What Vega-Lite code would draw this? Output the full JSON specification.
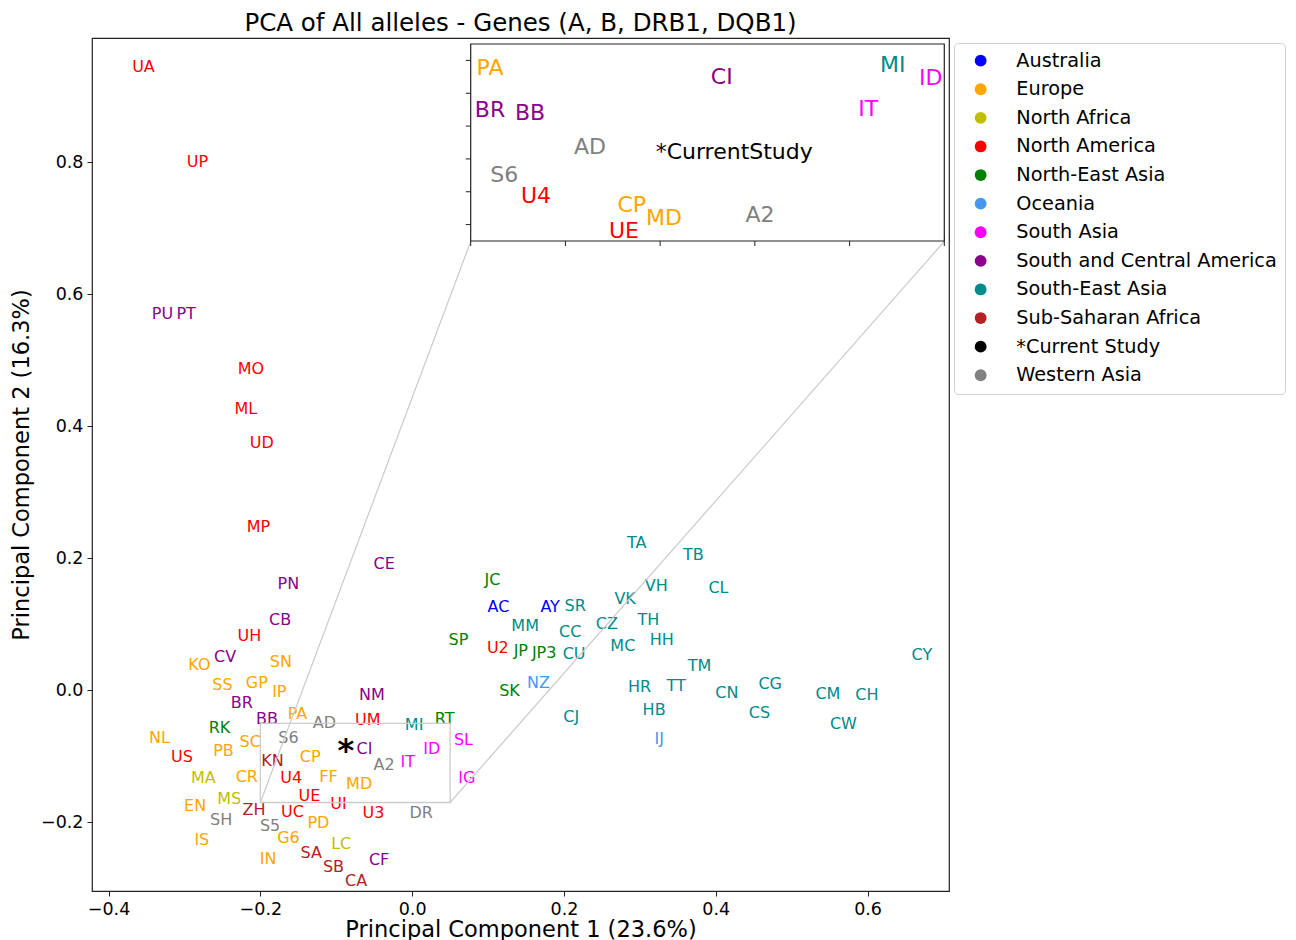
{
  "$schema": "https://vega.github.io/schema/vega-lite/v6.json",
  "width": 857,
  "height": 853,
  "autosize": {"type": "none"},
  "padding": {"left": 92, "top": 38, "right": 347, "bottom": 49},
  "background": "white",
  "title": {"text": "PCA of All alleles - Genes (A, B, DRB1, DQB1)", "fontSize": 24.5, "fontWeight": "normal", "color": "#000", "anchor": "middle", "offset": 2},
  "datasets": {
    "main": [
      {"code": "UA", "region": "North America", "pc1": -0.3540, "pc2": 0.9440},
      {"code": "UP", "region": "North America", "pc1": -0.2829, "pc2": 0.8001},
      {"code": "PU", "region": "South and Central America", "pc1": -0.3290, "pc2": 0.5705},
      {"code": "PT", "region": "South and Central America", "pc1": -0.2978, "pc2": 0.5705},
      {"code": "MO", "region": "North America", "pc1": -0.2125, "pc2": 0.4872},
      {"code": "ML", "region": "North America", "pc1": -0.2191, "pc2": 0.4266},
      {"code": "UD", "region": "North America", "pc1": -0.1980, "pc2": 0.3751},
      {"code": "MP", "region": "North America", "pc1": -0.2025, "pc2": 0.2473},
      {"code": "CE", "region": "South and Central America", "pc1": -0.0369, "pc2": 0.1908},
      {"code": "PN", "region": "South and Central America", "pc1": -0.1630, "pc2": 0.1605},
      {"code": "CB", "region": "South and Central America", "pc1": -0.1739, "pc2": 0.1060},
      {"code": "UH", "region": "North America", "pc1": -0.2144, "pc2": 0.0822},
      {"code": "CV", "region": "South and Central America", "pc1": -0.2464, "pc2": 0.0504},
      {"code": "KO", "region": "Europe", "pc1": -0.2802, "pc2": 0.0379},
      {"code": "SN", "region": "Europe", "pc1": -0.1730, "pc2": 0.0432},
      {"code": "SS", "region": "Europe", "pc1": -0.2499, "pc2": 0.0076},
      {"code": "GP", "region": "Europe", "pc1": -0.2046, "pc2": 0.0117},
      {"code": "IP", "region": "Europe", "pc1": -0.1750, "pc2": -0.0026},
      {"code": "BR", "region": "South and Central America", "pc1": -0.2244, "pc2": -0.0192},
      {"code": "BB", "region": "South and Central America", "pc1": -0.1914, "pc2": -0.0439},
      {"code": "PA", "region": "Europe", "pc1": -0.1511, "pc2": -0.0363},
      {"code": "AD", "region": "Western Asia", "pc1": -0.1155, "pc2": -0.0495},
      {"code": "NM", "region": "South and Central America", "pc1": -0.0531, "pc2": -0.0065},
      {"code": "UM", "region": "North America", "pc1": -0.0584, "pc2": -0.0454},
      {"code": "MI", "region": "South-East Asia", "pc1": 0.0026, "pc2": -0.0519},
      {"code": "RT", "region": "North-East Asia", "pc1": 0.0428, "pc2": -0.0432},
      {"code": "RK", "region": "North-East Asia", "pc1": -0.2539, "pc2": -0.0571},
      {"code": "NL", "region": "Europe", "pc1": -0.3329, "pc2": -0.0716},
      {"code": "SC", "region": "Europe", "pc1": -0.2134, "pc2": -0.0783},
      {"code": "S6", "region": "Western Asia", "pc1": -0.1630, "pc2": -0.0716},
      {"code": "*", "region": "*Current Study", "pc1": -0.0874, "pc2": -0.0807},
      {"code": "CI", "region": "South and Central America", "pc1": -0.0628, "pc2": -0.0883},
      {"code": "ID", "region": "South Asia", "pc1": 0.0260, "pc2": -0.0883},
      {"code": "SL", "region": "South Asia", "pc1": 0.0676, "pc2": -0.0757},
      {"code": "US", "region": "North America", "pc1": -0.3034, "pc2": -0.1010},
      {"code": "PB", "region": "Europe", "pc1": -0.2486, "pc2": -0.0919},
      {"code": "KN", "region": "Sub-Saharan Africa", "pc1": -0.1841, "pc2": -0.1075},
      {"code": "CP", "region": "Europe", "pc1": -0.1344, "pc2": -0.1010},
      {"code": "A2", "region": "Western Asia", "pc1": -0.0369, "pc2": -0.1125},
      {"code": "IT", "region": "South Asia", "pc1": -0.0057, "pc2": -0.1086},
      {"code": "MA", "region": "North Africa", "pc1": -0.2750, "pc2": -0.1328},
      {"code": "CR", "region": "Europe", "pc1": -0.2178, "pc2": -0.1313},
      {"code": "U4", "region": "North America", "pc1": -0.1594, "pc2": -0.1328},
      {"code": "FF", "region": "Europe", "pc1": -0.1103, "pc2": -0.1313},
      {"code": "MD", "region": "Europe", "pc1": -0.0698, "pc2": -0.1413},
      {"code": "IG", "region": "South Asia", "pc1": 0.0721, "pc2": -0.1328},
      {"code": "MS", "region": "North Africa", "pc1": -0.2411, "pc2": -0.1640},
      {"code": "EN", "region": "Europe", "pc1": -0.2859, "pc2": -0.1752},
      {"code": "ZH", "region": "Sub-Saharan Africa", "pc1": -0.2082, "pc2": -0.1817},
      {"code": "UE", "region": "North America", "pc1": -0.1353, "pc2": -0.1601},
      {"code": "UC", "region": "North America", "pc1": -0.1577, "pc2": -0.1843},
      {"code": "UI", "region": "North America", "pc1": -0.0971, "pc2": -0.1726},
      {"code": "U3", "region": "North America", "pc1": -0.0510, "pc2": -0.1852},
      {"code": "DR", "region": "Western Asia", "pc1": 0.0119, "pc2": -0.1852},
      {"code": "SH", "region": "Western Asia", "pc1": -0.2516, "pc2": -0.1969},
      {"code": "S5", "region": "Western Asia", "pc1": -0.1871, "pc2": -0.2060},
      {"code": "PD", "region": "Europe", "pc1": -0.1235, "pc2": -0.2010},
      {"code": "G6", "region": "Europe", "pc1": -0.1630, "pc2": -0.2237},
      {"code": "LC", "region": "North Africa", "pc1": -0.0935, "pc2": -0.2322},
      {"code": "IS", "region": "Europe", "pc1": -0.2771, "pc2": -0.2272},
      {"code": "IN", "region": "Europe", "pc1": -0.1897, "pc2": -0.2562},
      {"code": "SA", "region": "Sub-Saharan Africa", "pc1": -0.1331, "pc2": -0.2458},
      {"code": "CF", "region": "South and Central America", "pc1": -0.0435, "pc2": -0.2575},
      {"code": "SB", "region": "Sub-Saharan Africa", "pc1": -0.1037, "pc2": -0.2676},
      {"code": "CA", "region": "Sub-Saharan Africa", "pc1": -0.0738, "pc2": -0.2888},
      {"code": "SP", "region": "North-East Asia", "pc1": 0.0610, "pc2": 0.0768},
      {"code": "JC", "region": "North-East Asia", "pc1": 0.1058, "pc2": 0.1666},
      {"code": "AC", "region": "Australia", "pc1": 0.1137, "pc2": 0.1262},
      {"code": "AY", "region": "Australia", "pc1": 0.1818, "pc2": 0.1262},
      {"code": "SR", "region": "South-East Asia", "pc1": 0.2148, "pc2": 0.1277},
      {"code": "MM", "region": "South-East Asia", "pc1": 0.1489, "pc2": 0.0969},
      {"code": "CC", "region": "South-East Asia", "pc1": 0.2082, "pc2": 0.0883},
      {"code": "CZ", "region": "South-East Asia", "pc1": 0.2565, "pc2": 0.1000},
      {"code": "VK", "region": "South-East Asia", "pc1": 0.2806, "pc2": 0.1378},
      {"code": "TA", "region": "South-East Asia", "pc1": 0.2960, "pc2": 0.2231},
      {"code": "TB", "region": "South-East Asia", "pc1": 0.3706, "pc2": 0.2045},
      {"code": "VH", "region": "South-East Asia", "pc1": 0.3215, "pc2": 0.1580},
      {"code": "CL", "region": "South-East Asia", "pc1": 0.4036, "pc2": 0.1555},
      {"code": "TH", "region": "South-East Asia", "pc1": 0.3113, "pc2": 0.1071},
      {"code": "HH", "region": "South-East Asia", "pc1": 0.3290, "pc2": 0.0768},
      {"code": "MC", "region": "South-East Asia", "pc1": 0.2776, "pc2": 0.0666},
      {"code": "U2", "region": "North America", "pc1": 0.1129, "pc2": 0.0641},
      {"code": "JP", "region": "North-East Asia", "pc1": 0.1432, "pc2": 0.0595},
      {"code": "JP3", "region": "North-East Asia", "pc1": 0.1739, "pc2": 0.0571},
      {"code": "CU", "region": "South-East Asia", "pc1": 0.2134, "pc2": 0.0556},
      {"code": "CY", "region": "South-East Asia", "pc1": 0.6715, "pc2": 0.0541},
      {"code": "TM", "region": "South-East Asia", "pc1": 0.3785, "pc2": 0.0368},
      {"code": "NZ", "region": "Oceania", "pc1": 0.1664, "pc2": 0.0117},
      {"code": "SK", "region": "North-East Asia", "pc1": 0.1282, "pc2": -0.0011},
      {"code": "HR", "region": "South-East Asia", "pc1": 0.2995, "pc2": 0.0050},
      {"code": "TT", "region": "South-East Asia", "pc1": 0.3478, "pc2": 0.0065},
      {"code": "CN", "region": "South-East Asia", "pc1": 0.4146, "pc2": -0.0035},
      {"code": "CG", "region": "South-East Asia", "pc1": 0.4717, "pc2": 0.0101},
      {"code": "CM", "region": "South-East Asia", "pc1": 0.5477, "pc2": -0.0050},
      {"code": "CH", "region": "South-East Asia", "pc1": 0.5991, "pc2": -0.0076},
      {"code": "CS", "region": "South-East Asia", "pc1": 0.4576, "pc2": -0.0338},
      {"code": "HB", "region": "South-East Asia", "pc1": 0.3188, "pc2": -0.0303},
      {"code": "CW", "region": "South-East Asia", "pc1": 0.5682, "pc2": -0.0504},
      {"code": "CJ", "region": "South-East Asia", "pc1": 0.2095, "pc2": -0.0404},
      {"code": "IJ", "region": "Oceania", "pc1": 0.3254, "pc2": -0.0731}
    ],
    "inset": [
      {"code": "PA", "region": "Europe", "pc1": -0.1898, "pc2": -0.0648},
      {"code": "CI", "region": "South and Central America", "pc1": -0.0675, "pc2": -0.0699},
      {"code": "MI", "region": "South-East Asia", "pc1": 0.0228, "pc2": -0.0628},
      {"code": "ID", "region": "South Asia", "pc1": 0.0428, "pc2": -0.0705},
      {"code": "BR", "region": "South and Central America", "pc1": -0.1898, "pc2": -0.0902},
      {"code": "BB", "region": "South and Central America", "pc1": -0.1687, "pc2": -0.0922},
      {"code": "IT", "region": "South Asia", "pc1": 0.0099, "pc2": -0.0896},
      {"code": "AD", "region": "Western Asia", "pc1": -0.1370, "pc2": -0.1126},
      {"code": "*CurrentStudy", "region": "*Current Study", "pc1": -0.0609, "pc2": -0.1156},
      {"code": "S6", "region": "Western Asia", "pc1": -0.1823, "pc2": -0.1298},
      {"code": "U4", "region": "North America", "pc1": -0.1655, "pc2": -0.1424},
      {"code": "CP", "region": "Europe", "pc1": -0.1150, "pc2": -0.1481},
      {"code": "MD", "region": "Europe", "pc1": -0.0980, "pc2": -0.1558},
      {"code": "A2", "region": "Western Asia", "pc1": -0.0473, "pc2": -0.1542},
      {"code": "UE", "region": "North America", "pc1": -0.1191, "pc2": -0.1639}
    ],
    "zoom": [
      {"x0": -0.2, "x1": 0.05, "y0": -0.17, "y1": -0.05}
    ],
    "links": [
      {"x0": -0.2, "y0": -0.17, "x1": 0.0773, "y1": 0.680},
      {"x0": 0.05, "y0": -0.17, "x1": 0.7013, "y1": 0.680}
    ],
    "xticks": [{"v": -0.2}, {"v": -0.15}, {"v": -0.1}, {"v": -0.05}, {"v": 0}, {"v": 0.05}],
    "yticks": [{"v": -0.16}, {"v": -0.14}, {"v": -0.12}, {"v": -0.1}, {"v": -0.08}, {"v": -0.06}]
  },
  "layer": [
    {
      "layer": [
        {
          "data": {"name": "main"},
          "transform": [{"filter": "datum.code !== '*'"}],
          "mark": {"type": "text", "fontSize": 16, "align": "center", "baseline": "middle"},
          "encoding": {
            "x": {"field": "pc1", "type": "quantitative", "title": "Principal Component 1 (23.6%)",
                  "scale": {"domain": [-0.4218, 0.7073], "nice": false, "zero": false},
                  "axis": {"orient": "bottom", "values": [-0.4, -0.2, 0, 0.2, 0.4, 0.6], "format": ".1f", "titlePadding": 1}},
            "y": {"field": "pc2", "type": "quantitative", "title": "Principal Component 2 (16.3%)",
                  "scale": {"domain": [-0.3040, 0.9878], "nice": false, "zero": false},
                  "axis": {"orient": "left", "values": [-0.2, 0, 0.2, 0.4, 0.6, 0.8], "format": ".1f", "titlePadding": 7}},
            "text": {"field": "code"},
            "color": {"field": "region", "type": "nominal",
                      "scale": {"domain": ["Australia", "Europe", "North Africa", "North America", "North-East Asia", "Oceania", "South Asia", "South and Central America", "South-East Asia", "Sub-Saharan Africa", "*Current Study", "Western Asia"],
                                "range": ["#0000ff", "#ffa500", "#bfbf00", "#ff0000", "#008000", "#4797ee", "#ff00ff", "#8b008b", "#008b8b", "#b22222", "#000000", "#808080"]},
                      "legend": {"title": null}}
          }
        },
        {
          "data": {"name": "main"},
          "transform": [{"filter": "datum.code === '*'"}],
          "mark": {"type": "text", "fontSize": 32, "fontWeight": "bold", "align": "center", "baseline": "alphabetic", "dy": 17},
          "encoding": {
            "x": {"field": "pc1", "type": "quantitative", "title": "Principal Component 1 (23.6%)"},
            "y": {"field": "pc2", "type": "quantitative", "title": "Principal Component 2 (16.3%)"},
            "text": {"field": "code"},
            "color": {"field": "region", "type": "nominal"}
          }
        },
        {
          "data": {"name": "zoom"},
          "mark": {"type": "rect", "filled": false, "color": "#cccccc", "strokeWidth": 1.3},
          "encoding": {
            "x": {"field": "x0", "type": "quantitative", "title": "Principal Component 1 (23.6%)"},
            "x2": {"field": "x1"},
            "y": {"field": "y0", "type": "quantitative", "title": "Principal Component 2 (16.3%)"},
            "y2": {"field": "y1"}
          }
        },
        {
          "data": {"name": "links"},
          "mark": {"type": "rule", "color": "#cccccc", "strokeWidth": 1.2},
          "encoding": {
            "x": {"field": "x0", "type": "quantitative", "title": "Principal Component 1 (23.6%)"},
            "x2": {"field": "x1"},
            "y": {"field": "y0", "type": "quantitative", "title": "Principal Component 2 (16.3%)"},
            "y2": {"field": "y1"}
          }
        }
      ]
    },
    {
      "layer": [
        {
          "data": {"name": "xticks"},
          "mark": {"type": "tick", "orient": "vertical", "size": 10, "thickness": 1, "color": "#222222", "opacity": 1},
          "encoding": {
            "x": {"field": "v", "type": "quantitative", "axis": null,
                  "scale": {"domain": [-0.2, 0.05], "range": [378.7, 852.3], "nice": false, "zero": false}},
            "y": {"datum": -0.17, "type": "quantitative", "axis": null,
                  "scale": {"domain": [-0.17, -0.05], "range": [203, 6], "nice": false, "zero": false}}
          }
        },
        {
          "data": {"name": "yticks"},
          "mark": {"type": "tick", "orient": "horizontal", "size": 10, "thickness": 1, "color": "#222222", "opacity": 1},
          "encoding": {
            "x": {"datum": -0.2, "type": "quantitative", "axis": null,
                  "scale": {"domain": [-0.2, 0.05], "range": [378.7, 852.3], "nice": false, "zero": false}},
            "y": {"field": "v", "type": "quantitative", "axis": null,
                  "scale": {"domain": [-0.17, -0.05], "range": [203, 6], "nice": false, "zero": false}}
          }
        },
        {
          "data": {"name": "zoom"},
          "mark": {"type": "rect", "fill": "white", "stroke": "#222222", "strokeWidth": 1.2},
          "encoding": {
            "x": {"field": "x0", "type": "quantitative", "axis": null,
                  "scale": {"domain": [-0.2, 0.05], "range": [378.7, 852.3], "nice": false, "zero": false}},
            "x2": {"field": "x1"},
            "y": {"field": "y0", "type": "quantitative", "axis": null,
                  "scale": {"domain": [-0.17, -0.05], "range": [203, 6], "nice": false, "zero": false}},
            "y2": {"field": "y1"}
          }
        },
        {
          "data": {"name": "inset"},
          "mark": {"type": "text", "fontSize": 22, "align": "center", "baseline": "middle"},
          "encoding": {
            "x": {"field": "pc1", "type": "quantitative", "axis": null},
            "y": {"field": "pc2", "type": "quantitative", "axis": null},
            "text": {"field": "code"},
            "color": {"field": "region", "type": "nominal"}
          }
        }
      ]
    }
  ],
  "resolve": {"scale": {"x": "independent", "y": "independent"}, "axis": {"x": "independent", "y": "independent"}},
  "config": {
    "font": "DejaVu Sans",
    "view": {"stroke": "#222222", "strokeWidth": 1.2},
    "axis": {"grid": false, "domain": false, "tickColor": "#222222", "tickSize": 5, "tickWidth": 1, "labelFontSize": 17.5, "labelColor": "#000000", "labelPadding": 4, "titleFontSize": 22.5, "titleFontWeight": "normal", "titleColor": "#000000", "labelFlush": false, "labelOverlap": false},
    "legend": {"orient": "none", "legendX": 862, "legendY": 5, "labelFontSize": 19.3, "labelColor": "#000000", "symbolType": "circle", "symbolSize": 140, "symbolStrokeWidth": 0, "padding": 8, "strokeColor": "#d0d0d0", "fillColor": "white", "cornerRadius": 4, "symbolOffset": 9, "labelOffset": 26, "rowPadding": 8.6, "labelLimit": 400}
  }
}
